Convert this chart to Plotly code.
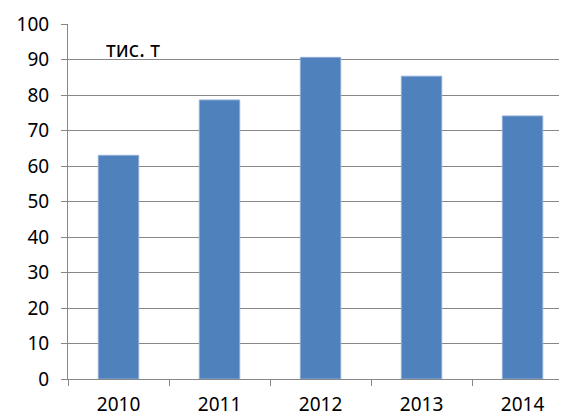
import plotly.graph_objects as go

years = ["2010", "2011", "2012", "2013", "2014"]
values = [63.0, 78.6, 90.6, 85.3, 74.1]
y_ticks = [0, 10, 20, 30, 40, 50, 60, 70, 80, 90, 100]
unit_label = "тис. т"

FONT = "Noto Sans"
GRID = "#878787"

fig = go.Figure()
fig.add_trace(go.Bar(
    x=years, y=values,
    marker=dict(color="#4F81BD", line=dict(color="#8EACD6", width=1)),
    width=0.4,
))

fig.update_layout(
    width=567, height=418,
    margin=dict(l=60, r=8, t=16, b=47, autoexpand=False),
    paper_bgcolor="white", plot_bgcolor="white",
    showlegend=False,
    font=dict(family=FONT, size=19, color="#000000"),
    xaxis=dict(
        type="category",
        range=[-0.5, 4.44],
        automargin=False,
        showline=True, linecolor=GRID, linewidth=1,
        ticks="outside", tickson="boundaries", ticklen=6, tickcolor=GRID,
        showgrid=False,
        tickfont=dict(family=FONT, size=19),
        ticklabelstandoff=8,
    ),
    yaxis=dict(
        range=[0, 100],
        tickvals=y_ticks,
        automargin=False,
        showline=True, linecolor=GRID, linewidth=1,
        ticks="outside", ticklen=6, tickcolor=GRID,
        showgrid=True, gridcolor=GRID, gridwidth=1.3,
        zeroline=False,
        tickfont=dict(family=FONT, size=19),
        ticklabelstandoff=8,
    ),
    annotations=[dict(
        text=unit_label, xref="paper", yref="y", x=0.073, y=92.9,
        xanchor="left", yanchor="middle", showarrow=False,
        font=dict(family=FONT, size=21, color="#000000"),
    )],
)

fig.write_html("out.html")
